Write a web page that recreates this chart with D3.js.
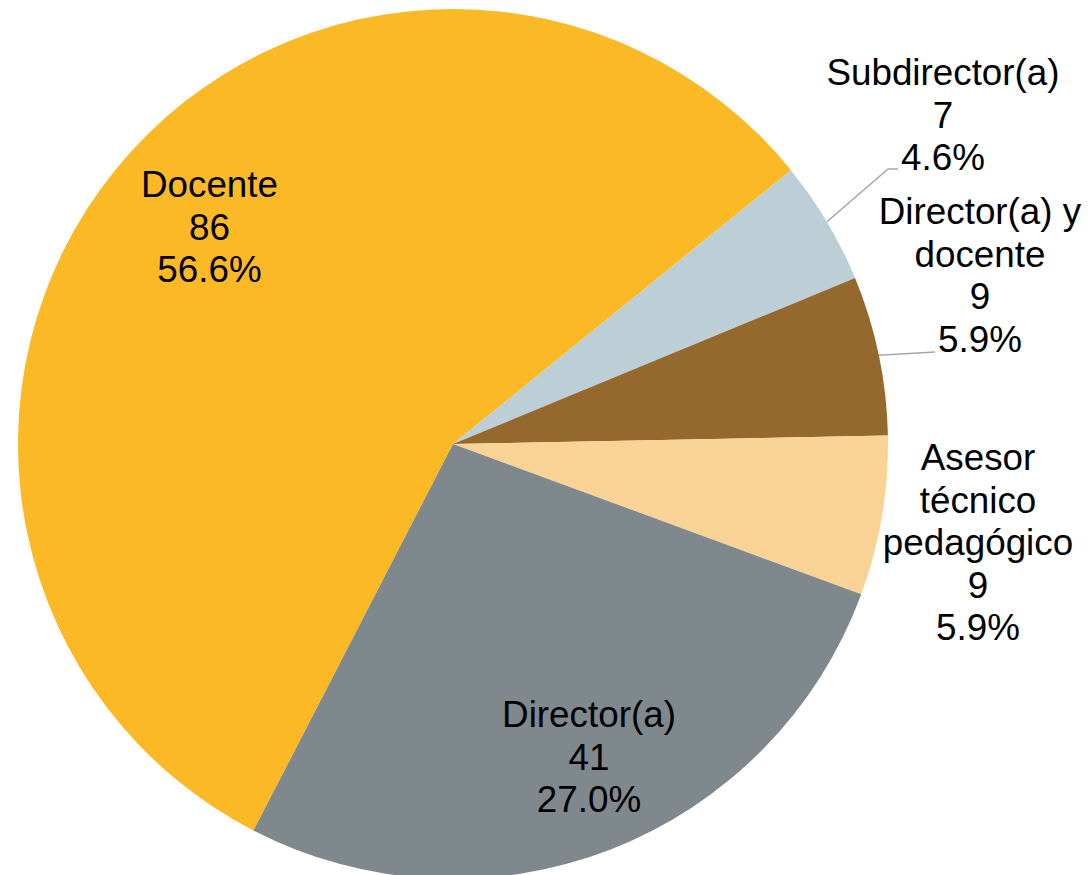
<!DOCTYPE html>
<html><head><meta charset="utf-8">
<script src="https://cdn.jsdelivr.net/npm/d3@7"></script>
<style>html,body{margin:0;padding:0;background:#fff;overflow:hidden}</style>
</head><body>
<svg id="chart" width="1090" height="875"></svg>
<script>
// ---- data ----
const categories = ["Docente", "Subdirector(a)", "Director(a) y docente", "Asesor técnico pedagógico", "Director(a)"];
const labelLines = [["Docente"], ["Subdirector(a)"], ["Director(a) y", "docente"], ["Asesor", "técnico", "pedagógico"], ["Director(a)"]];
const values = [86, 7, 9, 9, 41];
const percents = ["56.6%", "4.6%", "5.9%", "5.9%", "27.0%"];
const colors = ["#FAB925", "#BDCFD6", "#95692D", "#F9D396", "#7E888D"];

// ---- layout ----
const W = 1090, H = 875;
const cx = 453, cy = 444, R = 435;
const startDeg = 207.3;
const lineH = 42.5;
const fontSize = 36.8;
// label anchor (center x, first baseline y) and optional leader end point
const labelLayout = [
  {x: 209.5, y: 197},
  {x: 943, y: 85, leader: [888, 169, 898, 169]},
  {x: 980, y: 224, leader: [935, 352]},
  {x: 978, y: 470},
  {x: 589, y: 727}
];

const svg = d3.select("#chart");
const g = svg.append("g").attr("transform", `translate(${cx},${cy})`);

const pie = d3.pie().sort(null).value(d => d)
  .startAngle(startDeg * Math.PI / 180)
  .endAngle(startDeg * Math.PI / 180 + 2 * Math.PI);
const arcs = pie(values);
const arc = d3.arc().innerRadius(0).outerRadius(R);

g.selectAll("path.slice").data(arcs).enter().append("path")
  .attr("class", "slice")
  .attr("d", arc)
  .attr("fill", (d, i) => colors[i]);

// leader lines
arcs.forEach((d, i) => {
  const L = labelLayout[i];
  if (!L.leader) return;
  const mid = (d.startAngle + d.endAngle) / 2;
  const pts = [[cx + R * Math.sin(mid), cy - R * Math.cos(mid)]];
  for (let k = 0; k < L.leader.length; k += 2) pts.push([L.leader[k], L.leader[k + 1]]);
  svg.append("path")
    .attr("d", d3.line()(pts))
    .attr("fill", "none")
    .attr("stroke", "#a6a6a6")
    .attr("stroke-width", 1.5);
});

// labels
categories.forEach((c, i) => {
  const L = labelLayout[i];
  const lines = labelLines[i].concat([String(values[i]), percents[i]]);
  const t = svg.append("text")
    .attr("text-anchor", "middle")
    .attr("font-family", "Arial, 'Liberation Sans', sans-serif")
    .attr("font-size", fontSize)
    .attr("fill", "#000");
  lines.forEach((ln, k) => {
    t.append("tspan").attr("x", L.x).attr("y", L.y + k * lineH).text(ln);
  });
});
</script>
</body></html>
